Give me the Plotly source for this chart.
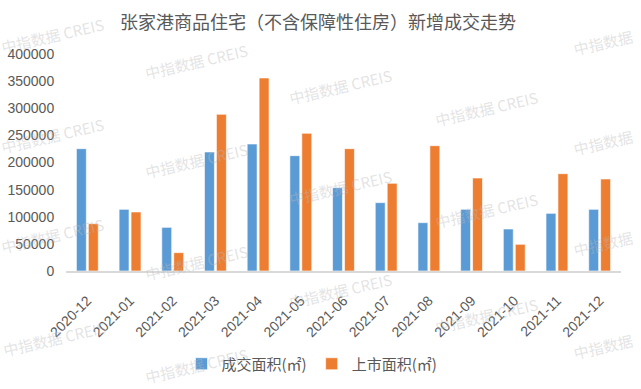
import plotly.graph_objects as go

categories = ["2020-12", "2021-01", "2021-02", "2021-03", "2021-04", "2021-05", "2021-06",
              "2021-07", "2021-08", "2021-09", "2021-10", "2021-11", "2021-12"]
deal_area = [225500, 113700, 80500, 219400, 234100, 212600, 153600,
             126000, 89100, 113700, 77400, 106300, 113700]
supply_area = [87200, 108800, 33800, 288800, 355800, 253800, 225500,
               161600, 231000, 171400, 49200, 179400, 169600]
y_ticks = [0, 50000, 100000, 150000, 200000, 250000, 300000, 350000, 400000]
title_text = "张家港商品住宅（不含保障性住房）新增成交走势"
series_names = ["成交面积(㎡)", "上市面积(㎡)"]
watermark_text = "中指数据 CREIS"
watermark_short = "中指数据"
# watermark centres in pixels (x, y from top)
watermarks = [(52, 35), (52, 135), (52, 235), (54, 338),
              (196, 62), (196, 160), (196, 262), (196, 365),
              (340, 86), (340, 187), (340, 290),
              (486, 108), (486, 210), (486, 315)]
watermarks_edge = [(603, 42), (603, 142), (603, 243), (603, 346)]

W, H = 641, 389
grey = "#595959"
L, R, T, B = 66, 621, 54, 271

fig = go.Figure()
fig.add_trace(go.Bar(x=categories, y=deal_area, name=series_names[0],
                     marker=dict(color="#5B9BD5", line=dict(color="rgba(255,255,255,0.6)", width=1))))
fig.add_trace(go.Bar(x=categories, y=supply_area, name=series_names[1],
                     marker=dict(color="#ED7D31", line=dict(color="rgba(255,255,255,0.6)", width=1))))

annotations = [dict(text=title_text, xref="paper", yref="paper", x=(318 - L) / (R - L),
                    y=1 + (T - 21) / (B - T), xanchor="center", yanchor="middle",
                    showarrow=False, font=dict(size=18, color=grey, family="Noto Sans CJK SC"))]
wm_font = dict(size=15, color="rgba(185,185,185,0.4)", family="Noto Sans CJK SC")
for (wx, wy) in watermarks:
    annotations.append(dict(text=watermark_text, xref="paper", yref="paper",
                            x=(wx - L) / (R - L), y=(B - wy) / (B - T),
                            xanchor="center", yanchor="middle", showarrow=False, textangle=-13,
                            font=wm_font))
for (wx, wy) in watermarks_edge:
    annotations.append(dict(text=watermark_short, xref="paper", yref="paper",
                            x=(wx - L) / (R - L), y=(B - wy) / (B - T),
                            xanchor="center", yanchor="middle", showarrow=False, textangle=-13,
                            font=wm_font))

fig.update_layout(
    width=W, height=H,
    margin=dict(l=L, r=W - R, t=T, b=H - B, autoexpand=False),
    paper_bgcolor="white", plot_bgcolor="white",
    barmode="group", bargap=0.44, bargroupgap=0.17,
    showlegend=True,
    legend=dict(orientation="h", xref="container", yref="container",
                x=312 / W, y=1 - 364 / H, xanchor="center", yanchor="middle",
                font=dict(size=15, color=grey, family="Noto Sans CJK SC"),
                itemwidth=30, traceorder="normal"),
    annotations=annotations,
    font=dict(family="Liberation Sans", color=grey),
)
fig.update_xaxes(type="category", automargin=False, showgrid=False, showline=True,
                 linecolor="#d9d9d9", linewidth=2,
                 tickangle=-45, tickfont=dict(size=14, color=grey, family="Liberation Sans"),
                 ticks="outside", ticklen=14, tickcolor="rgba(0,0,0,0)", zeroline=False)
fig.update_yaxes(range=[0, 400000], tickvals=y_ticks, ticktext=[str(v) for v in y_ticks],
                 automargin=False, showgrid=False, showline=False, zeroline=False,
                 tickfont=dict(size=14, color=grey, family="Liberation Sans"),
                 ticks="outside", ticklen=8, tickcolor="rgba(0,0,0,0)")

fig.write_html("out.html", config={"displayModeBar": False},
               post_script="document.body.style.margin='0';document.body.style.overflow='hidden';")
